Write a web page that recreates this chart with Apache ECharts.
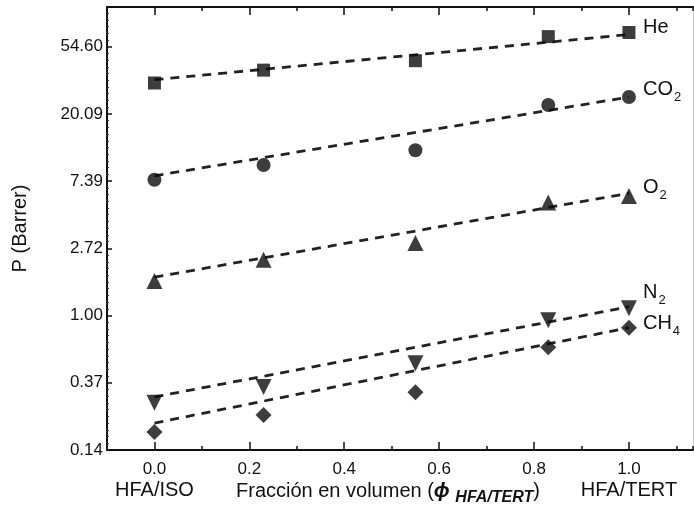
<!DOCTYPE html>
<html>
<head>
<meta charset="utf-8">
<script src="https://cdn.jsdelivr.net/npm/echarts@6/dist/echarts.min.js"></script>
<style>
  html, body { margin: 0; padding: 0; background: #fff; }
  #chart { width: 694px; height: 520px; }
</style>
</head>
<body>
<div id="chart"></div>
<script>
// fracción en volumen HFA/TERT
var fraccion = [0, 0.23, 0.55, 0.83, 1.0];
// permeabilidad P (Barrer)
var pHe  = [31.8, 38.5, 44.3, 63.4, 67.4];
var pCO2 = [7.54, 9.39, 11.7, 22.9, 25.8];
var pO2  = [1.67, 2.29, 2.94, 5.37, 5.93];
var pN2  = [0.273, 0.346, 0.492, 0.932, 1.116];
var pCH4 = [0.177, 0.228, 0.320, 0.625, 0.835];
// extremos de las rectas de ajuste (x = 0 y x = 1)
var fitX   = [0, 1.0];
var fitHe  = [33.4, 65.4];
var fitCO2 = [8.0, 25.8];
var fitO2  = [1.77, 6.17];
var fitN2  = [0.298, 1.14];
var fitCH4 = [0.202, 0.835];
// marcas del eje x
var xLabels = [0, 0.2, 0.4, 0.6, 0.8, 1.0];
var xMajor = [0, 0.2, 0.4, 0.6, 0.8, 1.0];

var FONT = '"Liberation Sans", Arial, sans-serif';
var INK = '#111';

var gases = [
  {name: 'He', p: pHe, fit: fitHe, symbol: 'rect', size: 13, rot: 0, label: '{a|He}', dy: -7},
  {name: 'CO2', p: pCO2, fit: fitCO2, symbol: 'circle', size: 14, rot: 0, label: '{a|CO}{s|2}', dy: -8},
  {name: 'O2', p: pO2, fit: fitO2, symbol: 'triangle', size: 16, rot: 0, label: '{a|O}{s|2}', dy: -6},
  {name: 'N2', p: pN2, fit: fitN2, symbol: 'triangle', size: 16, rot: 180, label: '{a|N}{s|2}', dy: -14},
  {name: 'CH4', p: pCH4, fit: fitCH4, symbol: 'diamond', size: 16, rot: 0, label: '{a|CH}{s|4}', dy: -4}
];

var series = [];
gases.forEach(function (g) {
  series.push({
    name: g.name + ' ajuste',
    type: 'line',
    data: fitX.map(function (x, i) { return [x, Math.log(g.fit[i])]; }),
    symbol: 'none',
    silent: true,
    z: 2,
    lineStyle: {color: '#222', width: 2.8, type: [9, 7]},
    endLabel: {
      show: true,
      distance: 14,
      offset: [0, g.dy],
      formatter: g.label,
      rich: {
        a: {fontFamily: FONT, fontSize: 20, color: INK},
        s: {fontFamily: FONT, fontSize: 13, color: INK, padding: [16, 0, 0, 1]}
      }
    }
  });
  series.push({
    name: g.name,
    type: 'scatter',
    data: fraccion.map(function (x, i) { return [x, Math.log(g.p[i])]; }),
    symbol: g.symbol,
    symbolSize: g.size,
    symbolRotate: g.rot,
    z: 3,
    itemStyle: {color: '#0d0d0d'}
  });
});

var xMin = -0.1, xMax = 1.135;

var chart = echarts.init(document.getElementById('chart'));
chart.setOption({
  backgroundColor: '#fff',
  animation: false,
  textStyle: {fontFamily: FONT},
  grid: {left: 107, right: 1, top: 7, bottom: 70},
  xAxis: [
    {
      type: 'value', position: 'bottom', min: xMin, max: xMax, interval: 0.1,
      splitLine: {show: false},
      axisLine: {onZero: false, lineStyle: {color: INK, width: 2}},
      axisTick: {inside: true, length: 4, lineStyle: {color: INK, width: 1.5}},
      axisLabel: {
        margin: 9,
        customValues: xLabels,
        fontFamily: FONT, fontSize: 17, color: INK, lineHeight: 20,
        formatter: function (v) {
          var t = v.toFixed(1);
          if (Math.abs(v) < 1e-6) return t + '\n{b|HFA/ISO}';
          if (Math.abs(v - 1) < 1e-6) return t + '\n{b|HFA/TERT}';
          return t;
        },
        rich: {b: {fontFamily: FONT, fontSize: 20, color: INK, lineHeight: 22}}
      }
    },
    {
      type: 'value', position: 'bottom', min: xMin, max: xMax,
      splitLine: {show: false}, axisLine: {show: false, onZero: false}, axisLabel: {show: false},
      axisTick: {inside: true, length: 8, customValues: xMajor, lineStyle: {color: INK, width: 1.5}}
    },
    {
      type: 'value', position: 'top', min: xMin, max: xMax, interval: 0.1,
      splitLine: {show: false}, axisLabel: {show: false},
      axisLine: {onZero: false, lineStyle: {color: INK, width: 2}},
      axisTick: {inside: true, length: 4, lineStyle: {color: INK, width: 1.5}}
    },
    {
      type: 'value', position: 'top', min: xMin, max: xMax,
      splitLine: {show: false}, axisLine: {show: false, onZero: false}, axisLabel: {show: false},
      axisTick: {inside: true, length: 8, customValues: xMajor, lineStyle: {color: INK, width: 1.5}}
    }
  ],
  yAxis: [
    {
      type: 'value', position: 'left', min: -2, max: 4.59, interval: 1,
      name: 'P (Barrer)', nameLocation: 'middle', nameGap: 77, nameRotate: 90,
      nameTextStyle: {fontFamily: FONT, fontSize: 20, color: INK},
      splitLine: {show: false},
      axisLine: {onZero: false, lineStyle: {color: INK, width: 2}},
      axisTick: {inside: true, length: 5, lineStyle: {color: INK, width: 1.5}},
      minorTick: {show: true, splitNumber: 10, length: 2, lineStyle: {color: '#333', width: 1}},
      axisLabel: {
        margin: 4, fontFamily: FONT, fontSize: 17, color: INK,
        showMaxLabel: false,
        formatter: function (v) {
          if (Math.abs(v - Math.round(v)) > 1e-6) return '';
          return Math.exp(v).toFixed(2);
        }
      }
    },
    {
      type: 'value', position: 'right', min: -2, max: 4.59,
      splitLine: {show: false}, axisTick: {show: false}, axisLabel: {show: false},
      axisLine: {show: true, onZero: false, lineStyle: {color: '#c8c8c8', width: 1}}
    }
  ],
  graphic: [{
    type: 'text',
    left: 236, top: 481,
    style: {
      text: 'Fracción en volumen ({p|ϕ} {s|HFA/TERT})',
      fontFamily: FONT, fontSize: 20, fill: INK,
      rich: {
        p: {fontFamily: FONT, fontSize: 21, fontStyle: 'italic', fontWeight: 'bold', fill: INK},
        s: {fontFamily: FONT, fontSize: 16, fontStyle: 'italic', fontWeight: 'bold', fill: INK, padding: [12, 0, 0, 0]}
      }
    }
  }],
  series: series
});
</script>
</body>
</html>
